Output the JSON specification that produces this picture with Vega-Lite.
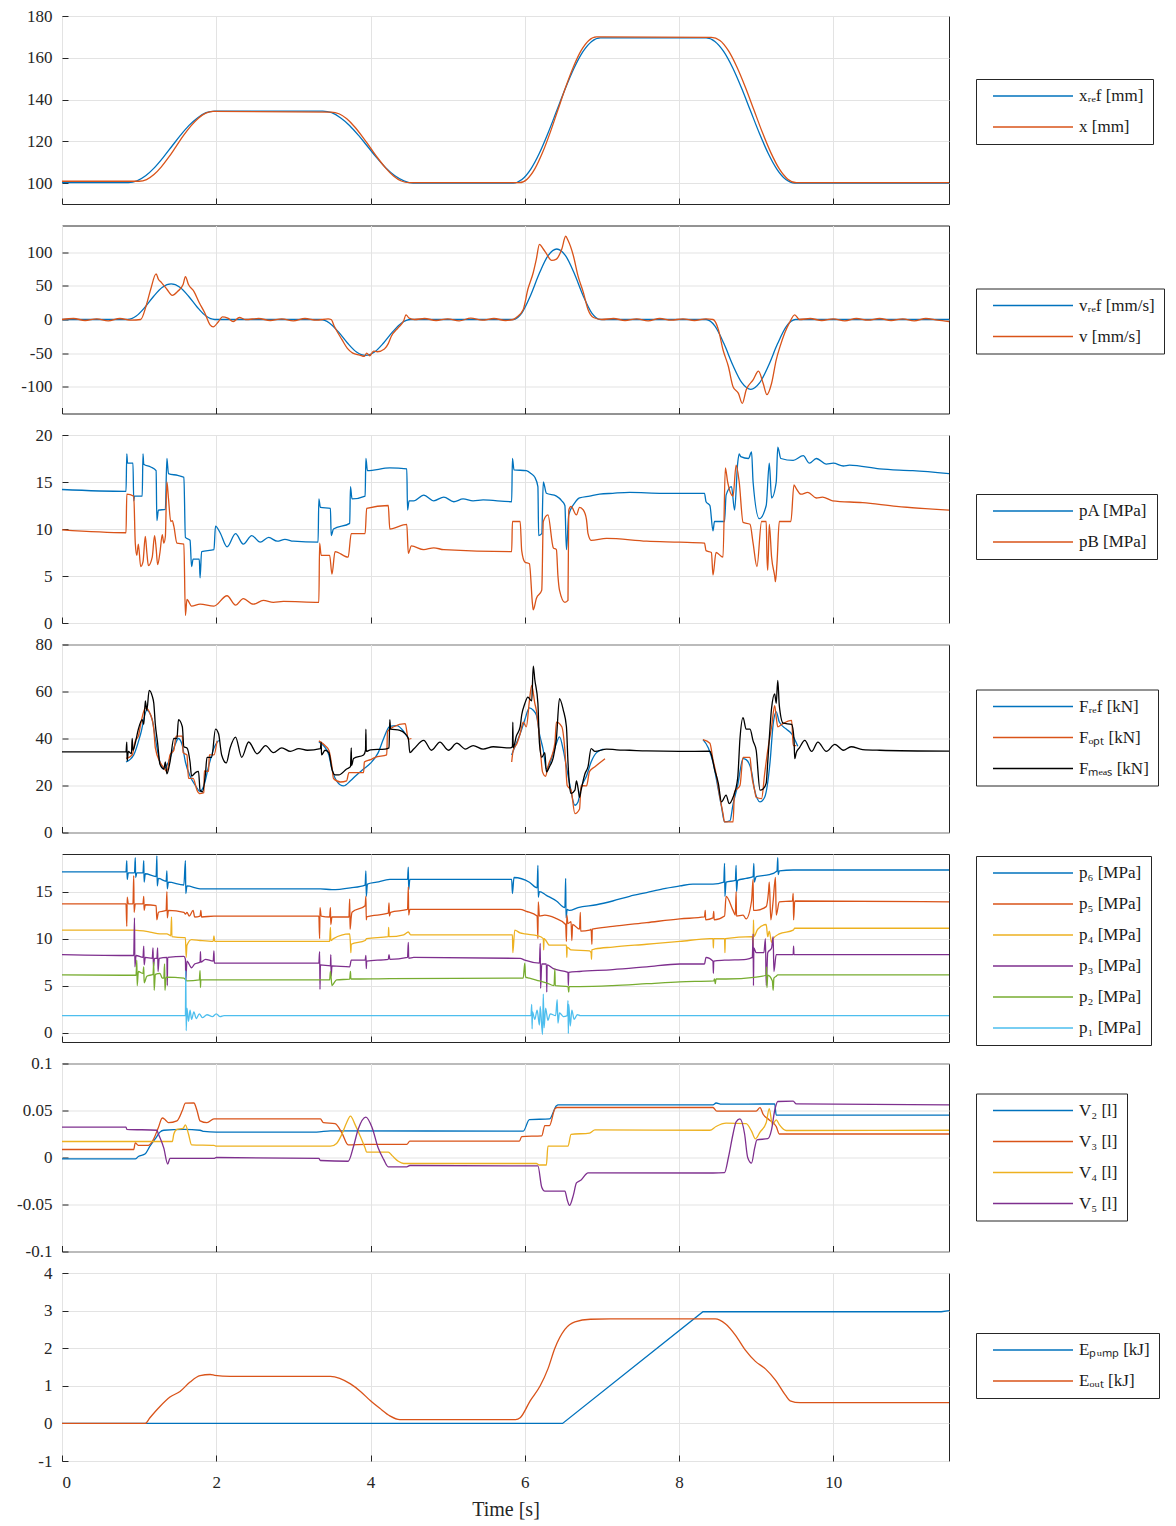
{
"$schema": "https://vega.github.io/schema/vega-lite/v6.json",
"padding": {"left": 16, "top": 6, "right": 5, "bottom": 5},
"spacing": 21.5,
"bounds": "flush",
"resolve": {"scale": {"color": "independent"}, "legend": {"color": "independent"}},
"config": {
"font": "Liberation Serif",
"view": {"stroke": "#262626", "strokeWidth": 1},
"axis": {"labelFont": "Liberation Serif", "labelFontSize": 17, "labelColor": "#262626", "titleFont": "Liberation Serif", "titleFontSize": 20, "titleFontWeight": "normal", "titleColor": "#262626", "gridColor": "#e3e3e3", "gridWidth": 1, "domain": false, "tickColor": "#262626", "tickSize": -6, "tickWidth": 1, "labelPadding": 16},
"legend": {"labelFont": "Liberation Serif", "labelFontSize": 17, "labelColor": "#1a1a1a", "symbolType": "stroke", "symbolSize": 6400, "symbolStrokeWidth": 1.2, "strokeColor": "#262626", "fillColor": "white", "padding": 9, "rowPadding": 14, "clipHeight": 16, "symbolOffset": 7, "labelOffset": 5},
"line": {"strokeWidth": 1.3, "interpolate": "monotone"}
},
"datasets": {
"d1": [
{"s":"r","t":0,"y":100.3},{"s":"r","t":0.86,"y":100.3},{"s":"r","t":0.972,"y":101.1},{"s":"r","t":1.084,"y":103.5},{"s":"r","t":1.196,"y":107.3},{"s":"r","t":1.308,"y":112.1},{"s":"r","t":1.42,"y":117.4},{"s":"r","t":1.532,"y":122.7},{"s":"r","t":1.644,"y":127.5},{"s":"r","t":1.756,"y":131.2},{"s":"r","t":1.868,"y":133.7},{"s":"r","t":1.98,"y":134.5},{"s":"r","t":3.38,"y":134.5},{"s":"r","t":3.497,"y":133.7},{"s":"r","t":3.614,"y":131.2},{"s":"r","t":3.731,"y":127.5},{"s":"r","t":3.848,"y":122.7},{"s":"r","t":3.965,"y":117.4},{"s":"r","t":4.082,"y":112.1},{"s":"r","t":4.199,"y":107.3},{"s":"r","t":4.316,"y":103.5},{"s":"r","t":4.433,"y":101.1},{"s":"r","t":4.55,"y":100.0},{"s":"r","t":5.85,"y":100.0},{"s":"r","t":5.963,"y":101.7},{"s":"r","t":6.076,"y":106.6},{"s":"r","t":6.189,"y":114.3},{"s":"r","t":6.302,"y":124.0},{"s":"r","t":6.415,"y":134.75},{"s":"r","t":6.528,"y":145.5},{"s":"r","t":6.641,"y":155.2},{"s":"r","t":6.754,"y":162.9},{"s":"r","t":6.867,"y":167.8},{"s":"r","t":6.98,"y":169.5},{"s":"r","t":8.35,"y":169.5},{"s":"r","t":8.465,"y":167.8},{"s":"r","t":8.58,"y":162.9},{"s":"r","t":8.695,"y":155.2},{"s":"r","t":8.81,"y":145.5},{"s":"r","t":8.925,"y":134.75},{"s":"r","t":9.04,"y":124.0},{"s":"r","t":9.155,"y":114.3},{"s":"r","t":9.27,"y":106.6},{"s":"r","t":9.385,"y":101.7},{"s":"r","t":9.5,"y":100.0},{"s":"r","t":11.5,"y":100.0},
{"s":"m","t":0,"y":100.9},{"s":"m","t":1.0,"y":100.9},{"s":"m","t":1.096,"y":101.7},{"s":"m","t":1.192,"y":104.1},{"s":"m","t":1.288,"y":107.8},{"s":"m","t":1.384,"y":112.4},{"s":"m","t":1.48,"y":117.6},{"s":"m","t":1.576,"y":122.8},{"s":"m","t":1.672,"y":127.4},{"s":"m","t":1.768,"y":131.1},{"s":"m","t":1.864,"y":133.5},{"s":"m","t":1.96,"y":134.3},{"s":"m","t":3.49,"y":134.0},{"s":"m","t":3.591,"y":133.2},{"s":"m","t":3.692,"y":130.8},{"s":"m","t":3.793,"y":127.0},{"s":"m","t":3.894,"y":122.3},{"s":"m","t":3.995,"y":117.1},{"s":"m","t":4.096,"y":111.9},{"s":"m","t":4.197,"y":107.2},{"s":"m","t":4.298,"y":103.4},{"s":"m","t":4.399,"y":101.0},{"s":"m","t":4.5,"y":100.2},{"s":"m","t":5.93,"y":100.2},{"s":"m","t":6.03,"y":101.9},{"s":"m","t":6.13,"y":106.8},{"s":"m","t":6.23,"y":114.6},{"s":"m","t":6.33,"y":124.3},{"s":"m","t":6.43,"y":135.1},{"s":"m","t":6.53,"y":145.9},{"s":"m","t":6.63,"y":155.6},{"s":"m","t":6.73,"y":163.4},{"s":"m","t":6.83,"y":168.3},{"s":"m","t":6.93,"y":170.0},{"s":"m","t":8.42,"y":169.8},{"s":"m","t":8.53,"y":168.3},{"s":"m","t":8.64,"y":163.4},{"s":"m","t":8.75,"y":155.6},{"s":"m","t":8.86,"y":145.9},{"s":"m","t":8.97,"y":135.1},{"s":"m","t":9.08,"y":124.3},{"s":"m","t":9.19,"y":114.6},{"s":"m","t":9.3,"y":106.8},{"s":"m","t":9.41,"y":101.9},{"s":"m","t":9.52,"y":100.2},{"s":"m","t":11.5,"y":100.2}
],
"d2": [
{"s":"r","t":0,"y":0},{"s":"r","t":0.85,"y":0},{"s":"r","t":0.963,"y":5.1},{"s":"r","t":1.076,"y":18.3},{"s":"r","t":1.189,"y":34.7},{"s":"r","t":1.302,"y":48.0},{"s":"r","t":1.415,"y":53},{"s":"r","t":1.528,"y":48.0},{"s":"r","t":1.641,"y":34.7},{"s":"r","t":1.754,"y":18.3},{"s":"r","t":1.867,"y":5.1},{"s":"r","t":1.98,"y":0},{"s":"r","t":3.35,"y":0},{"s":"r","t":3.467,"y":-5.1},{"s":"r","t":3.584,"y":-18.5},{"s":"r","t":3.701,"y":-35.0},{"s":"r","t":3.818,"y":-48.4},{"s":"r","t":3.935,"y":-53.5},{"s":"r","t":4.052,"y":-48.4},{"s":"r","t":4.169,"y":-35.0},{"s":"r","t":4.286,"y":-18.5},{"s":"r","t":4.403,"y":-5.1},{"s":"r","t":4.52,"y":0},{"s":"r","t":5.85,"y":0},{"s":"r","t":5.963,"y":10.0},{"s":"r","t":6.076,"y":36.2},{"s":"r","t":6.189,"y":68.8},{"s":"r","t":6.302,"y":95.0},{"s":"r","t":6.415,"y":105},{"s":"r","t":6.528,"y":95.0},{"s":"r","t":6.641,"y":68.8},{"s":"r","t":6.754,"y":36.2},{"s":"r","t":6.867,"y":10.0},{"s":"r","t":6.98,"y":0},{"s":"r","t":8.35,"y":0},{"s":"r","t":8.466,"y":-9.9},{"s":"r","t":8.582,"y":-35.9},{"s":"r","t":8.698,"y":-68.1},{"s":"r","t":8.814,"y":-94.1},{"s":"r","t":8.93,"y":-104},{"s":"r","t":9.046,"y":-94.1},{"s":"r","t":9.162,"y":-68.1},{"s":"r","t":9.278,"y":-35.9},{"s":"r","t":9.394,"y":-9.9},{"s":"r","t":9.51,"y":0},{"s":"r","t":11.5,"y":0},
{"s":"m","t":0,"y":0},{"s":"m","t":0.15,"y":1.5},{"s":"m","t":0.3,"y":-1.5},{"s":"m","t":0.45,"y":1},{"s":"m","t":0.6,"y":-2},{"s":"m","t":0.75,"y":1.5},{"s":"m","t":0.9,"y":-1},{"s":"m","t":1.02,"y":0},{"s":"m","t":1.09,"y":20},{"s":"m","t":1.15,"y":45},{"s":"m","t":1.22,"y":68},{"s":"m","t":1.25,"y":60},{"s":"m","t":1.29,"y":55},{"s":"m","t":1.36,"y":45},{"s":"m","t":1.43,"y":36},{"s":"m","t":1.5,"y":42},{"s":"m","t":1.57,"y":52},{"s":"m","t":1.6,"y":64},{"s":"m","t":1.64,"y":52},{"s":"m","t":1.71,"y":42},{"s":"m","t":1.78,"y":25},{"s":"m","t":1.85,"y":10},{"s":"m","t":1.92,"y":-8},{"s":"m","t":1.96,"y":-11},{"s":"m","t":2.03,"y":-3},{"s":"m","t":2.08,"y":4},{"s":"m","t":2.15,"y":2},{"s":"m","t":2.22,"y":-3},{"s":"m","t":2.3,"y":3},{"s":"m","t":2.38,"y":0},{"s":"m","t":2.55,"y":1.5},{"s":"m","t":2.7,"y":-1.5},{"s":"m","t":2.85,"y":1},{"s":"m","t":3.0,"y":-2},{"s":"m","t":3.15,"y":1.5},{"s":"m","t":3.3,"y":-1},{"s":"m","t":3.45,"y":1},{"s":"m","t":3.49,"y":0},{"s":"m","t":3.53,"y":-10},{"s":"m","t":3.63,"y":-30},{"s":"m","t":3.7,"y":-43},{"s":"m","t":3.77,"y":-50},{"s":"m","t":3.86,"y":-53},{"s":"m","t":3.92,"y":-55},{"s":"m","t":3.95,"y":-50},{"s":"m","t":3.99,"y":-54},{"s":"m","t":4.04,"y":-47},{"s":"m","t":4.09,"y":-48},{"s":"m","t":4.18,"y":-44},{"s":"m","t":4.23,"y":-36},{"s":"m","t":4.27,"y":-25},{"s":"m","t":4.36,"y":-12},{"s":"m","t":4.43,"y":-2},{"s":"m","t":4.46,"y":7},{"s":"m","t":4.5,"y":2},{"s":"m","t":4.57,"y":0},{"s":"m","t":4.7,"y":1.5},{"s":"m","t":4.85,"y":-1.5},{"s":"m","t":5.0,"y":1},{"s":"m","t":5.15,"y":-2},{"s":"m","t":5.3,"y":2},{"s":"m","t":5.45,"y":-1},{"s":"m","t":5.6,"y":1.5},{"s":"m","t":5.75,"y":-1.5},{"s":"m","t":5.85,"y":0},{"s":"m","t":5.89,"y":3},{"s":"m","t":5.98,"y":15},{"s":"m","t":6.04,"y":45},{"s":"m","t":6.11,"y":70},{"s":"m","t":6.15,"y":90},{"s":"m","t":6.19,"y":112},{"s":"m","t":6.24,"y":105},{"s":"m","t":6.28,"y":98},{"s":"m","t":6.35,"y":88},{"s":"m","t":6.41,"y":90},{"s":"m","t":6.48,"y":105},{"s":"m","t":6.53,"y":124},{"s":"m","t":6.56,"y":118},{"s":"m","t":6.63,"y":95},{"s":"m","t":6.69,"y":65},{"s":"m","t":6.76,"y":40},{"s":"m","t":6.82,"y":15},{"s":"m","t":6.89,"y":3},{"s":"m","t":7.0,"y":0},{"s":"m","t":7.15,"y":1.5},{"s":"m","t":7.3,"y":-1.5},{"s":"m","t":7.45,"y":1},{"s":"m","t":7.6,"y":-2},{"s":"m","t":7.75,"y":1.5},{"s":"m","t":7.9,"y":-1},{"s":"m","t":8.05,"y":1},{"s":"m","t":8.2,"y":-1.5},{"s":"m","t":8.35,"y":1},{"s":"m","t":8.44,"y":0},{"s":"m","t":8.51,"y":-15},{"s":"m","t":8.57,"y":-45},{"s":"m","t":8.64,"y":-70},{"s":"m","t":8.7,"y":-100},{"s":"m","t":8.77,"y":-110},{"s":"m","t":8.82,"y":-125},{"s":"m","t":8.87,"y":-105},{"s":"m","t":8.96,"y":-90},{"s":"m","t":9.03,"y":-77},{"s":"m","t":9.09,"y":-95},{"s":"m","t":9.14,"y":-112},{"s":"m","t":9.2,"y":-95},{"s":"m","t":9.26,"y":-60},{"s":"m","t":9.31,"y":-40},{"s":"m","t":9.37,"y":-20},{"s":"m","t":9.43,"y":-5},{"s":"m","t":9.5,"y":7},{"s":"m","t":9.56,"y":0},{"s":"m","t":9.7,"y":1.5},{"s":"m","t":9.85,"y":-1.5},{"s":"m","t":10.0,"y":1},{"s":"m","t":10.15,"y":-2},{"s":"m","t":10.3,"y":1.5},{"s":"m","t":10.45,"y":-1},{"s":"m","t":10.6,"y":1.5},{"s":"m","t":10.75,"y":-1.5},{"s":"m","t":10.9,"y":1},{"s":"m","t":11.05,"y":-2},{"s":"m","t":11.2,"y":1.5},{"s":"m","t":11.35,"y":-1},{"s":"m","t":11.5,"y":-3}
],
"d3": [
{"s":"A","t":0,"y":14.2},{"s":"A","t":0.83,"y":14.0},{"s":"A","t":0.84,"y":18.0},{"s":"A","t":0.85,"y":17.0},{"s":"A","t":0.92,"y":17.0},{"s":"A","t":0.93,"y":13.0},{"s":"A","t":0.94,"y":13.5},{"s":"A","t":1.04,"y":13.5},{"s":"A","t":1.05,"y":18.0},{"s":"A","t":1.06,"y":16.9},{"s":"A","t":1.15,"y":16.6},{"s":"A","t":1.22,"y":16.2},{"s":"A","t":1.23,"y":10.9},{"s":"A","t":1.25,"y":12.0},{"s":"A","t":1.34,"y":12.1},{"s":"A","t":1.36,"y":17.5},{"s":"A","t":1.38,"y":15.9},{"s":"A","t":1.5,"y":15.7},{"s":"A","t":1.58,"y":15.5},{"s":"A","t":1.6,"y":9.1},{"s":"A","t":1.66,"y":8.8},{"s":"A","t":1.68,"y":6.0},{"s":"A","t":1.7,"y":6.8},{"s":"A","t":1.78,"y":6.8},{"s":"A","t":1.79,"y":4.8},{"s":"A","t":1.81,"y":7.6},{"s":"A","t":1.97,"y":7.8},{"s":"A","t":1.99,"y":10.3},{"s":"A","t":2.05,"y":9.6},{"s":"A","t":2.14,"y":8.1},{"s":"A","t":2.25,"y":9.5},{"s":"A","t":2.35,"y":8.4},{"s":"A","t":2.46,"y":9.3},{"s":"A","t":2.57,"y":8.6},{"s":"A","t":2.68,"y":9.1},{"s":"A","t":2.79,"y":8.7},{"s":"A","t":2.89,"y":8.9},{"s":"A","t":3.0,"y":8.7},{"s":"A","t":3.32,"y":8.6},{"s":"A","t":3.33,"y":13.2},{"s":"A","t":3.35,"y":12.3},{"s":"A","t":3.48,"y":12.2},{"s":"A","t":3.49,"y":9.3},{"s":"A","t":3.52,"y":10.0},{"s":"A","t":3.73,"y":10.6},{"s":"A","t":3.74,"y":14.5},{"s":"A","t":3.76,"y":13.2},{"s":"A","t":3.93,"y":13.5},{"s":"A","t":3.94,"y":17.5},{"s":"A","t":3.96,"y":16.2},{"s":"A","t":4.25,"y":16.5},{"s":"A","t":4.47,"y":16.4},{"s":"A","t":4.48,"y":12.0},{"s":"A","t":4.5,"y":13.0},{"s":"A","t":4.56,"y":13.0},{"s":"A","t":4.69,"y":13.6},{"s":"A","t":4.82,"y":13.0},{"s":"A","t":4.95,"y":13.4},{"s":"A","t":5.08,"y":12.9},{"s":"A","t":5.2,"y":13.2},{"s":"A","t":5.33,"y":13.0},{"s":"A","t":5.46,"y":13.1},{"s":"A","t":5.83,"y":12.9},{"s":"A","t":5.84,"y":17.5},{"s":"A","t":5.86,"y":16.3},{"s":"A","t":6.02,"y":16.2},{"s":"A","t":6.08,"y":15.9},{"s":"A","t":6.13,"y":15.5},{"s":"A","t":6.17,"y":14.5},{"s":"A","t":6.18,"y":9.3},{"s":"A","t":6.22,"y":9.5},{"s":"A","t":6.24,"y":15.0},{"s":"A","t":6.28,"y":13.8},{"s":"A","t":6.41,"y":13.5},{"s":"A","t":6.48,"y":13.0},{"s":"A","t":6.52,"y":12.5},{"s":"A","t":6.54,"y":7.8},{"s":"A","t":6.57,"y":11.5},{"s":"A","t":6.65,"y":12.8},{"s":"A","t":6.71,"y":13.3},{"s":"A","t":6.84,"y":13.5},{"s":"A","t":6.97,"y":13.7},{"s":"A","t":7.14,"y":13.8},{"s":"A","t":7.36,"y":13.9},{"s":"A","t":7.79,"y":13.8},{"s":"A","t":8.33,"y":13.8},{"s":"A","t":8.35,"y":12.9},{"s":"A","t":8.4,"y":12.5},{"s":"A","t":8.44,"y":9.8},{"s":"A","t":8.46,"y":10.8},{"s":"A","t":8.59,"y":10.8},{"s":"A","t":8.61,"y":13.6},{"s":"A","t":8.68,"y":14.5},{"s":"A","t":8.72,"y":12.0},{"s":"A","t":8.76,"y":17.0},{"s":"A","t":8.78,"y":18.0},{"s":"A","t":8.8,"y":17.7},{"s":"A","t":8.9,"y":17.5},{"s":"A","t":8.94,"y":18.2},{"s":"A","t":8.96,"y":15.0},{"s":"A","t":9.04,"y":11.1},{"s":"A","t":9.13,"y":12.5},{"s":"A","t":9.17,"y":17.0},{"s":"A","t":9.2,"y":13.3},{"s":"A","t":9.26,"y":15.0},{"s":"A","t":9.28,"y":18.7},{"s":"A","t":9.32,"y":17.5},{"s":"A","t":9.48,"y":17.3},{"s":"A","t":9.61,"y":17.8},{"s":"A","t":9.69,"y":17.0},{"s":"A","t":9.78,"y":17.5},{"s":"A","t":9.91,"y":16.9},{"s":"A","t":10.0,"y":17.0},{"s":"A","t":10.13,"y":16.7},{"s":"A","t":10.21,"y":16.8},{"s":"A","t":10.6,"y":16.4},{"s":"A","t":11.03,"y":16.2},{"s":"A","t":11.5,"y":15.9},
{"s":"B","t":0,"y":9.9},{"s":"B","t":0.83,"y":9.6},{"s":"B","t":0.84,"y":13.7},{"s":"B","t":0.93,"y":13.5},{"s":"B","t":0.95,"y":8.5},{"s":"B","t":0.97,"y":7.2},{"s":"B","t":0.99,"y":8.4},{"s":"B","t":1.02,"y":6.0},{"s":"B","t":1.05,"y":6.5},{"s":"B","t":1.08,"y":9.2},{"s":"B","t":1.1,"y":7.5},{"s":"B","t":1.12,"y":6.1},{"s":"B","t":1.17,"y":7.0},{"s":"B","t":1.2,"y":9.3},{"s":"B","t":1.22,"y":8.0},{"s":"B","t":1.24,"y":6.2},{"s":"B","t":1.27,"y":7.5},{"s":"B","t":1.3,"y":9.4},{"s":"B","t":1.32,"y":8.5},{"s":"B","t":1.34,"y":9.2},{"s":"B","t":1.36,"y":15.0},{"s":"B","t":1.38,"y":13.3},{"s":"B","t":1.41,"y":10.8},{"s":"B","t":1.43,"y":10.9},{"s":"B","t":1.45,"y":10.3},{"s":"B","t":1.49,"y":8.5},{"s":"B","t":1.58,"y":8.4},{"s":"B","t":1.6,"y":0.8},{"s":"B","t":1.62,"y":2.5},{"s":"B","t":1.68,"y":1.8},{"s":"B","t":1.79,"y":2.0},{"s":"B","t":1.97,"y":1.8},{"s":"B","t":2.14,"y":2.9},{"s":"B","t":2.25,"y":1.9},{"s":"B","t":2.35,"y":2.6},{"s":"B","t":2.48,"y":2.0},{"s":"B","t":2.61,"y":2.4},{"s":"B","t":2.74,"y":2.2},{"s":"B","t":2.87,"y":2.3},{"s":"B","t":3.33,"y":2.2},{"s":"B","t":3.34,"y":8.5},{"s":"B","t":3.36,"y":7.2},{"s":"B","t":3.47,"y":7.2},{"s":"B","t":3.5,"y":5.2},{"s":"B","t":3.54,"y":7.6},{"s":"B","t":3.71,"y":7.0},{"s":"B","t":3.75,"y":9.5},{"s":"B","t":3.93,"y":9.5},{"s":"B","t":3.95,"y":12.2},{"s":"B","t":4.23,"y":12.5},{"s":"B","t":4.25,"y":10.0},{"s":"B","t":4.47,"y":10.5},{"s":"B","t":4.49,"y":7.4},{"s":"B","t":4.53,"y":8.2},{"s":"B","t":4.69,"y":7.8},{"s":"B","t":4.82,"y":8.0},{"s":"B","t":4.95,"y":7.8},{"s":"B","t":5.83,"y":7.6},{"s":"B","t":5.84,"y":10.8},{"s":"B","t":5.94,"y":10.8},{"s":"B","t":5.96,"y":7.7},{"s":"B","t":6.0,"y":6.5},{"s":"B","t":6.06,"y":6.3},{"s":"B","t":6.1,"y":2.0},{"s":"B","t":6.11,"y":1.4},{"s":"B","t":6.15,"y":2.6},{"s":"B","t":6.22,"y":3.5},{"s":"B","t":6.24,"y":10.8},{"s":"B","t":6.3,"y":11.5},{"s":"B","t":6.37,"y":8.0},{"s":"B","t":6.41,"y":7.8},{"s":"B","t":6.43,"y":5.0},{"s":"B","t":6.45,"y":3.5},{"s":"B","t":6.52,"y":2.2},{"s":"B","t":6.56,"y":2.4},{"s":"B","t":6.57,"y":12.0},{"s":"B","t":6.6,"y":12.4},{"s":"B","t":6.67,"y":11.5},{"s":"B","t":6.71,"y":12.3},{"s":"B","t":6.76,"y":12.0},{"s":"B","t":6.8,"y":11.0},{"s":"B","t":6.82,"y":9.5},{"s":"B","t":6.86,"y":8.8},{"s":"B","t":7.06,"y":9.0},{"s":"B","t":7.58,"y":8.7},{"s":"B","t":8.01,"y":8.6},{"s":"B","t":8.33,"y":8.5},{"s":"B","t":8.35,"y":7.7},{"s":"B","t":8.42,"y":7.5},{"s":"B","t":8.44,"y":5.1},{"s":"B","t":8.48,"y":7.5},{"s":"B","t":8.57,"y":7.0},{"s":"B","t":8.6,"y":16.5},{"s":"B","t":8.63,"y":15.0},{"s":"B","t":8.7,"y":13.5},{"s":"B","t":8.74,"y":16.8},{"s":"B","t":8.78,"y":15.0},{"s":"B","t":8.83,"y":10.7},{"s":"B","t":8.92,"y":10.5},{"s":"B","t":8.96,"y":8.5},{"s":"B","t":9.01,"y":6.0},{"s":"B","t":9.07,"y":10.8},{"s":"B","t":9.13,"y":10.8},{"s":"B","t":9.14,"y":7.0},{"s":"B","t":9.15,"y":5.6},{"s":"B","t":9.17,"y":10.5},{"s":"B","t":9.2,"y":7.0},{"s":"B","t":9.24,"y":5.0},{"s":"B","t":9.25,"y":4.4},{"s":"B","t":9.27,"y":6.4},{"s":"B","t":9.3,"y":10.8},{"s":"B","t":9.45,"y":10.8},{"s":"B","t":9.49,"y":14.7},{"s":"B","t":9.52,"y":14.3},{"s":"B","t":9.58,"y":13.7},{"s":"B","t":9.67,"y":13.9},{"s":"B","t":9.78,"y":13.3},{"s":"B","t":9.86,"y":13.4},{"s":"B","t":9.99,"y":13.0},{"s":"B","t":10.38,"y":12.8},{"s":"B","t":10.82,"y":12.4},{"s":"B","t":11.5,"y":12.0}
],
"d4": [
{"s":"r","g":"1","t":0.83,"y":30.0},{"s":"r","g":"1","t":0.93,"y":33.0},{"s":"r","g":"1","t":1.02,"y":42.0},{"s":"r","g":"1","t":1.1,"y":52.0},{"s":"r","g":"1","t":1.17,"y":48.0},{"s":"r","g":"1","t":1.21,"y":40.0},{"s":"r","g":"1","t":1.27,"y":30.0},{"s":"r","g":"1","t":1.32,"y":27.0},{"s":"r","g":"1","t":1.38,"y":30.0},{"s":"r","g":"1","t":1.45,"y":36.0},{"s":"r","g":"1","t":1.51,"y":40.0},{"s":"r","g":"1","t":1.56,"y":37.0},{"s":"r","g":"1","t":1.6,"y":30.0},{"s":"r","g":"1","t":1.66,"y":24.0},{"s":"r","g":"1","t":1.73,"y":20.0},{"s":"r","g":"1","t":1.79,"y":17.5},{"s":"r","g":"1","t":1.84,"y":20.0},{"s":"r","g":"1","t":1.9,"y":28.0},{"s":"r","g":"1","t":1.97,"y":36.0},{"s":"r","g":"1","t":2.03,"y":39.2},
{"s":"r","g":"2","t":3.33,"y":38.5},{"s":"r","g":"2","t":3.39,"y":37.0},{"s":"r","g":"2","t":3.46,"y":33.0},{"s":"r","g":"2","t":3.5,"y":27.0},{"s":"r","g":"2","t":3.56,"y":22.0},{"s":"r","g":"2","t":3.65,"y":19.8},{"s":"r","g":"2","t":3.74,"y":22.0},{"s":"r","g":"2","t":3.82,"y":24.5},{"s":"r","g":"2","t":3.91,"y":27.0},{"s":"r","g":"2","t":4.0,"y":29.5},{"s":"r","g":"2","t":4.1,"y":34.0},{"s":"r","g":"2","t":4.17,"y":40.0},{"s":"r","g":"2","t":4.25,"y":45.2},{"s":"r","g":"2","t":4.34,"y":45.5},{"s":"r","g":"2","t":4.43,"y":43.0},{"s":"r","g":"2","t":4.49,"y":40.0},
{"s":"r","g":"3","t":5.83,"y":33.0},{"s":"r","g":"3","t":5.89,"y":38.0},{"s":"r","g":"3","t":5.94,"y":42.0},{"s":"r","g":"3","t":6.0,"y":48.0},{"s":"r","g":"3","t":6.06,"y":53.0},{"s":"r","g":"3","t":6.11,"y":52.0},{"s":"r","g":"3","t":6.15,"y":50.0},{"s":"r","g":"3","t":6.19,"y":42.0},{"s":"r","g":"3","t":6.24,"y":35.0},{"s":"r","g":"3","t":6.28,"y":27.0},{"s":"r","g":"3","t":6.32,"y":29.0},{"s":"r","g":"3","t":6.37,"y":34.0},{"s":"r","g":"3","t":6.41,"y":38.0},{"s":"r","g":"3","t":6.45,"y":40.7},{"s":"r","g":"3","t":6.5,"y":35.0},{"s":"r","g":"3","t":6.54,"y":28.0},{"s":"r","g":"3","t":6.58,"y":21.0},{"s":"r","g":"3","t":6.65,"y":11.6},{"s":"r","g":"3","t":6.69,"y":13.0},{"s":"r","g":"3","t":6.73,"y":19.0},{"s":"r","g":"3","t":6.8,"y":24.0},{"s":"r","g":"3","t":6.86,"y":30.0},{"s":"r","g":"3","t":6.93,"y":34.0},{"s":"r","g":"3","t":7.02,"y":35.5},
{"s":"r","g":"4","t":8.31,"y":39.5},{"s":"r","g":"4","t":8.38,"y":36.0},{"s":"r","g":"4","t":8.44,"y":30.0},{"s":"r","g":"4","t":8.51,"y":18.0},{"s":"r","g":"4","t":8.55,"y":11.0},{"s":"r","g":"4","t":8.59,"y":4.5},{"s":"r","g":"4","t":8.66,"y":5.0},{"s":"r","g":"4","t":8.7,"y":12.0},{"s":"r","g":"4","t":8.76,"y":20.0},{"s":"r","g":"4","t":8.83,"y":31.4},{"s":"r","g":"4","t":8.87,"y":31.0},{"s":"r","g":"4","t":8.94,"y":26.0},{"s":"r","g":"4","t":8.98,"y":18.0},{"s":"r","g":"4","t":9.05,"y":13.0},{"s":"r","g":"4","t":9.11,"y":15.0},{"s":"r","g":"4","t":9.18,"y":30.0},{"s":"r","g":"4","t":9.22,"y":46.0},{"s":"r","g":"4","t":9.26,"y":51.3},{"s":"r","g":"4","t":9.3,"y":47.0},{"s":"r","g":"4","t":9.39,"y":44.0},{"s":"r","g":"4","t":9.46,"y":42.0},{"s":"r","g":"4","t":9.54,"y":36.7},
{"s":"o","g":"1","t":0.83,"y":31.5},{"s":"o","g":"1","t":0.91,"y":33.0},{"s":"o","g":"1","t":0.95,"y":39.0},{"s":"o","g":"1","t":0.99,"y":41.0},{"s":"o","g":"1","t":1.02,"y":46.0},{"s":"o","g":"1","t":1.08,"y":53.0},{"s":"o","g":"1","t":1.15,"y":50.0},{"s":"o","g":"1","t":1.19,"y":44.0},{"s":"o","g":"1","t":1.21,"y":36.0},{"s":"o","g":"1","t":1.27,"y":30.0},{"s":"o","g":"1","t":1.32,"y":27.5},{"s":"o","g":"1","t":1.36,"y":26.0},{"s":"o","g":"1","t":1.4,"y":33.0},{"s":"o","g":"1","t":1.45,"y":35.0},{"s":"o","g":"1","t":1.48,"y":41.0},{"s":"o","g":"1","t":1.56,"y":41.0},{"s":"o","g":"1","t":1.57,"y":34.0},{"s":"o","g":"1","t":1.62,"y":33.0},{"s":"o","g":"1","t":1.64,"y":23.0},{"s":"o","g":"1","t":1.7,"y":23.0},{"s":"o","g":"1","t":1.75,"y":18.0},{"s":"o","g":"1","t":1.78,"y":16.6},{"s":"o","g":"1","t":1.84,"y":17.0},{"s":"o","g":"1","t":1.845,"y":26.2},{"s":"o","g":"1","t":1.9,"y":26.0},{"s":"o","g":"1","t":1.91,"y":33.0},{"s":"o","g":"1","t":1.97,"y":33.0},{"s":"o","g":"1","t":2.01,"y":39.0},
{"s":"o","g":"2","t":3.33,"y":39.0},{"s":"o","g":"2","t":3.41,"y":37.0},{"s":"o","g":"2","t":3.46,"y":35.0},{"s":"o","g":"2","t":3.5,"y":28.0},{"s":"o","g":"2","t":3.52,"y":23.0},{"s":"o","g":"2","t":3.61,"y":21.5},{"s":"o","g":"2","t":3.69,"y":22.0},{"s":"o","g":"2","t":3.72,"y":25.5},{"s":"o","g":"2","t":3.91,"y":25.5},{"s":"o","g":"2","t":3.92,"y":30.0},{"s":"o","g":"2","t":4.0,"y":31.0},{"s":"o","g":"2","t":4.06,"y":32.0},{"s":"o","g":"2","t":4.21,"y":33.0},{"s":"o","g":"2","t":4.22,"y":43.0},{"s":"o","g":"2","t":4.3,"y":45.0},{"s":"o","g":"2","t":4.45,"y":46.3},{"s":"o","g":"2","t":4.49,"y":39.7},{"s":"o","g":"2","t":4.53,"y":40.0},
{"s":"o","g":"3","t":5.83,"y":30.0},{"s":"o","g":"3","t":5.85,"y":35.0},{"s":"o","g":"3","t":5.9,"y":38.0},{"s":"o","g":"3","t":5.94,"y":42.0},{"s":"o","g":"3","t":5.98,"y":47.0},{"s":"o","g":"3","t":6.02,"y":45.0},{"s":"o","g":"3","t":6.06,"y":56.0},{"s":"o","g":"3","t":6.09,"y":62.6},{"s":"o","g":"3","t":6.13,"y":55.0},{"s":"o","g":"3","t":6.15,"y":52.0},{"s":"o","g":"3","t":6.19,"y":40.6},{"s":"o","g":"3","t":6.23,"y":25.8},{"s":"o","g":"3","t":6.27,"y":23.9},{"s":"o","g":"3","t":6.3,"y":28.0},{"s":"o","g":"3","t":6.39,"y":38.0},{"s":"o","g":"3","t":6.41,"y":47.0},{"s":"o","g":"3","t":6.48,"y":45.0},{"s":"o","g":"3","t":6.52,"y":35.0},{"s":"o","g":"3","t":6.55,"y":20.0},{"s":"o","g":"3","t":6.6,"y":18.0},{"s":"o","g":"3","t":6.65,"y":8.0},{"s":"o","g":"3","t":6.71,"y":10.0},{"s":"o","g":"3","t":6.73,"y":20.0},{"s":"o","g":"3","t":6.8,"y":19.8},{"s":"o","g":"3","t":6.84,"y":26.0},{"s":"o","g":"3","t":6.91,"y":28.0},{"s":"o","g":"3","t":7.04,"y":31.4},
{"s":"o","g":"4","t":8.31,"y":39.5},{"s":"o","g":"4","t":8.4,"y":38.0},{"s":"o","g":"4","t":8.44,"y":31.0},{"s":"o","g":"4","t":8.48,"y":25.0},{"s":"o","g":"4","t":8.53,"y":15.0},{"s":"o","g":"4","t":8.57,"y":8.0},{"s":"o","g":"4","t":8.59,"y":4.5},{"s":"o","g":"4","t":8.7,"y":4.5},{"s":"o","g":"4","t":8.72,"y":17.3},{"s":"o","g":"4","t":8.79,"y":20.0},{"s":"o","g":"4","t":8.83,"y":32.0},{"s":"o","g":"4","t":8.92,"y":32.0},{"s":"o","g":"4","t":8.94,"y":25.0},{"s":"o","g":"4","t":8.98,"y":18.0},{"s":"o","g":"4","t":9.0,"y":15.0},{"s":"o","g":"4","t":9.07,"y":14.4},{"s":"o","g":"4","t":9.11,"y":25.0},{"s":"o","g":"4","t":9.15,"y":35.0},{"s":"o","g":"4","t":9.2,"y":45.0},{"s":"o","g":"4","t":9.24,"y":54.0},{"s":"o","g":"4","t":9.26,"y":49.0},{"s":"o","g":"4","t":9.28,"y":45.0},{"s":"o","g":"4","t":9.33,"y":46.0},{"s":"o","g":"4","t":9.46,"y":47.7},{"s":"o","g":"4","t":9.48,"y":37.0},{"s":"o","g":"4","t":9.52,"y":37.0},
{"s":"m","g":"m","t":0,"y":34.3},{"s":"m","g":"m","t":0.83,"y":34.3},{"s":"m","g":"m","t":0.84,"y":38.5},{"s":"m","g":"m","t":0.845,"y":30.5},{"s":"m","g":"m","t":0.86,"y":34.5},{"s":"m","g":"m","t":0.9,"y":33.5},{"s":"m","g":"m","t":0.91,"y":40.0},{"s":"m","g":"m","t":0.92,"y":35.0},{"s":"m","g":"m","t":0.95,"y":38.0},{"s":"m","g":"m","t":0.99,"y":44.0},{"s":"m","g":"m","t":1.04,"y":48.0},{"s":"m","g":"m","t":1.06,"y":46.0},{"s":"m","g":"m","t":1.08,"y":56.0},{"s":"m","g":"m","t":1.1,"y":52.0},{"s":"m","g":"m","t":1.13,"y":60.5},{"s":"m","g":"m","t":1.17,"y":58.0},{"s":"m","g":"m","t":1.19,"y":55.0},{"s":"m","g":"m","t":1.21,"y":46.0},{"s":"m","g":"m","t":1.24,"y":38.0},{"s":"m","g":"m","t":1.27,"y":29.0},{"s":"m","g":"m","t":1.32,"y":27.0},{"s":"m","g":"m","t":1.34,"y":30.0},{"s":"m","g":"m","t":1.36,"y":25.0},{"s":"m","g":"m","t":1.4,"y":30.0},{"s":"m","g":"m","t":1.45,"y":40.0},{"s":"m","g":"m","t":1.49,"y":40.0},{"s":"m","g":"m","t":1.51,"y":48.0},{"s":"m","g":"m","t":1.56,"y":45.0},{"s":"m","g":"m","t":1.58,"y":36.5},{"s":"m","g":"m","t":1.62,"y":36.0},{"s":"m","g":"m","t":1.66,"y":30.0},{"s":"m","g":"m","t":1.68,"y":24.0},{"s":"m","g":"m","t":1.73,"y":25.5},{"s":"m","g":"m","t":1.77,"y":26.0},{"s":"m","g":"m","t":1.79,"y":18.0},{"s":"m","g":"m","t":1.82,"y":17.3},{"s":"m","g":"m","t":1.86,"y":25.0},{"s":"m","g":"m","t":1.88,"y":32.0},{"s":"m","g":"m","t":1.94,"y":32.0},{"s":"m","g":"m","t":1.99,"y":44.0},{"s":"m","g":"m","t":2.03,"y":42.0},{"s":"m","g":"m","t":2.07,"y":33.0},{"s":"m","g":"m","t":2.13,"y":29.6},{"s":"m","g":"m","t":2.18,"y":36.0},{"s":"m","g":"m","t":2.25,"y":40.6},{"s":"m","g":"m","t":2.33,"y":32.0},{"s":"m","g":"m","t":2.42,"y":38.5},{"s":"m","g":"m","t":2.53,"y":33.5},{"s":"m","g":"m","t":2.64,"y":37.0},{"s":"m","g":"m","t":2.74,"y":34.0},{"s":"m","g":"m","t":2.85,"y":36.0},{"s":"m","g":"m","t":2.96,"y":34.5},{"s":"m","g":"m","t":3.07,"y":35.7},{"s":"m","g":"m","t":3.18,"y":35.0},{"s":"m","g":"m","t":3.35,"y":35.7},{"s":"m","g":"m","t":3.36,"y":38.5},{"s":"m","g":"m","t":3.365,"y":33.0},{"s":"m","g":"m","t":3.41,"y":35.0},{"s":"m","g":"m","t":3.46,"y":34.0},{"s":"m","g":"m","t":3.5,"y":27.0},{"s":"m","g":"m","t":3.54,"y":24.5},{"s":"m","g":"m","t":3.59,"y":24.5},{"s":"m","g":"m","t":3.69,"y":27.0},{"s":"m","g":"m","t":3.74,"y":28.0},{"s":"m","g":"m","t":3.75,"y":36.0},{"s":"m","g":"m","t":3.755,"y":28.5},{"s":"m","g":"m","t":3.78,"y":31.5},{"s":"m","g":"m","t":3.91,"y":33.0},{"s":"m","g":"m","t":3.935,"y":35.0},{"s":"m","g":"m","t":3.94,"y":44.0},{"s":"m","g":"m","t":3.945,"y":34.5},{"s":"m","g":"m","t":4.0,"y":35.2},{"s":"m","g":"m","t":4.19,"y":35.5},{"s":"m","g":"m","t":4.24,"y":36.0},{"s":"m","g":"m","t":4.25,"y":48.0},{"s":"m","g":"m","t":4.26,"y":44.0},{"s":"m","g":"m","t":4.38,"y":43.5},{"s":"m","g":"m","t":4.45,"y":42.0},{"s":"m","g":"m","t":4.49,"y":40.0},{"s":"m","g":"m","t":4.51,"y":34.0},{"s":"m","g":"m","t":4.56,"y":35.5},{"s":"m","g":"m","t":4.69,"y":39.2},{"s":"m","g":"m","t":4.79,"y":35.0},{"s":"m","g":"m","t":4.9,"y":38.5},{"s":"m","g":"m","t":5.01,"y":35.0},{"s":"m","g":"m","t":5.12,"y":38.0},{"s":"m","g":"m","t":5.23,"y":35.5},{"s":"m","g":"m","t":5.33,"y":37.0},{"s":"m","g":"m","t":5.46,"y":35.5},{"s":"m","g":"m","t":5.59,"y":36.5},{"s":"m","g":"m","t":5.81,"y":36.0},{"s":"m","g":"m","t":5.84,"y":36.5},{"s":"m","g":"m","t":5.845,"y":47.0},{"s":"m","g":"m","t":5.85,"y":36.0},{"s":"m","g":"m","t":5.89,"y":41.0},{"s":"m","g":"m","t":5.94,"y":45.0},{"s":"m","g":"m","t":5.96,"y":50.0},{"s":"m","g":"m","t":6.0,"y":54.8},{"s":"m","g":"m","t":6.04,"y":57.6},{"s":"m","g":"m","t":6.09,"y":56.0},{"s":"m","g":"m","t":6.11,"y":70.8},{"s":"m","g":"m","t":6.13,"y":65.0},{"s":"m","g":"m","t":6.17,"y":55.0},{"s":"m","g":"m","t":6.19,"y":38.0},{"s":"m","g":"m","t":6.22,"y":32.0},{"s":"m","g":"m","t":6.26,"y":34.0},{"s":"m","g":"m","t":6.28,"y":25.8},{"s":"m","g":"m","t":6.32,"y":28.0},{"s":"m","g":"m","t":6.37,"y":32.0},{"s":"m","g":"m","t":6.41,"y":40.0},{"s":"m","g":"m","t":6.45,"y":57.0},{"s":"m","g":"m","t":6.5,"y":52.0},{"s":"m","g":"m","t":6.54,"y":45.0},{"s":"m","g":"m","t":6.56,"y":30.0},{"s":"m","g":"m","t":6.58,"y":20.0},{"s":"m","g":"m","t":6.6,"y":16.6},{"s":"m","g":"m","t":6.65,"y":18.0},{"s":"m","g":"m","t":6.67,"y":22.0},{"s":"m","g":"m","t":6.69,"y":19.0},{"s":"m","g":"m","t":6.71,"y":15.0},{"s":"m","g":"m","t":6.73,"y":18.0},{"s":"m","g":"m","t":6.78,"y":25.0},{"s":"m","g":"m","t":6.82,"y":28.0},{"s":"m","g":"m","t":6.86,"y":35.7},{"s":"m","g":"m","t":6.91,"y":34.5},{"s":"m","g":"m","t":7.06,"y":35.5},{"s":"m","g":"m","t":7.19,"y":35.2},{"s":"m","g":"m","t":7.36,"y":35.0},{"s":"m","g":"m","t":7.58,"y":34.7},{"s":"m","g":"m","t":8.01,"y":34.5},{"s":"m","g":"m","t":8.4,"y":34.6},{"s":"m","g":"m","t":8.42,"y":33.0},{"s":"m","g":"m","t":8.46,"y":27.0},{"s":"m","g":"m","t":8.51,"y":20.8},{"s":"m","g":"m","t":8.55,"y":13.0},{"s":"m","g":"m","t":8.61,"y":15.9},{"s":"m","g":"m","t":8.65,"y":12.3},{"s":"m","g":"m","t":8.7,"y":15.0},{"s":"m","g":"m","t":8.76,"y":23.0},{"s":"m","g":"m","t":8.79,"y":40.0},{"s":"m","g":"m","t":8.83,"y":48.9},{"s":"m","g":"m","t":8.87,"y":44.0},{"s":"m","g":"m","t":8.92,"y":44.0},{"s":"m","g":"m","t":8.96,"y":39.0},{"s":"m","g":"m","t":9.0,"y":35.0},{"s":"m","g":"m","t":9.05,"y":18.0},{"s":"m","g":"m","t":9.09,"y":18.5},{"s":"m","g":"m","t":9.13,"y":21.0},{"s":"m","g":"m","t":9.15,"y":30.0},{"s":"m","g":"m","t":9.2,"y":53.0},{"s":"m","g":"m","t":9.24,"y":59.0},{"s":"m","g":"m","t":9.26,"y":55.0},{"s":"m","g":"m","t":9.28,"y":64.7},{"s":"m","g":"m","t":9.3,"y":54.0},{"s":"m","g":"m","t":9.35,"y":46.5},{"s":"m","g":"m","t":9.46,"y":46.0},{"s":"m","g":"m","t":9.49,"y":40.0},{"s":"m","g":"m","t":9.5,"y":31.4},{"s":"m","g":"m","t":9.52,"y":34.0},{"s":"m","g":"m","t":9.56,"y":36.0},{"s":"m","g":"m","t":9.63,"y":39.2},{"s":"m","g":"m","t":9.72,"y":34.5},{"s":"m","g":"m","t":9.8,"y":38.5},{"s":"m","g":"m","t":9.91,"y":34.5},{"s":"m","g":"m","t":10.02,"y":37.5},{"s":"m","g":"m","t":10.13,"y":35.0},{"s":"m","g":"m","t":10.23,"y":36.5},{"s":"m","g":"m","t":10.38,"y":35.3},{"s":"m","g":"m","t":10.6,"y":35.0},{"s":"m","g":"m","t":11.5,"y":34.6}
],
"d5": [
{"s":"6","t":0,"y":17.1},{"s":"6","t":0.83,"y":17.1},{"s":"6","t":0.84,"y":18.3},{"s":"6","t":0.845,"y":16.3},{"s":"6","t":0.86,"y":17.0},{"s":"6","t":0.94,"y":17.0},{"s":"6","t":0.95,"y":18.6},{"s":"6","t":0.955,"y":16.5},{"s":"6","t":0.97,"y":17.0},{"s":"6","t":1.05,"y":17.0},{"s":"6","t":1.06,"y":18.3},{"s":"6","t":1.065,"y":16.0},{"s":"6","t":1.08,"y":16.9},{"s":"6","t":1.22,"y":16.6},{"s":"6","t":1.23,"y":18.8},{"s":"6","t":1.235,"y":15.6},{"s":"6","t":1.25,"y":16.4},{"s":"6","t":1.35,"y":16.1},{"s":"6","t":1.36,"y":17.2},{"s":"6","t":1.365,"y":15.3},{"s":"6","t":1.38,"y":16.0},{"s":"6","t":1.58,"y":15.7},{"s":"6","t":1.6,"y":18.3},{"s":"6","t":1.605,"y":14.8},{"s":"6","t":1.62,"y":15.6},{"s":"6","t":1.79,"y":15.3},{"s":"6","t":3.35,"y":15.3},{"s":"6","t":3.5,"y":15.2},{"s":"6","t":3.74,"y":15.4},{"s":"6","t":3.93,"y":15.7},{"s":"6","t":3.94,"y":17.2},{"s":"6","t":3.945,"y":14.5},{"s":"6","t":3.96,"y":15.8},{"s":"6","t":4.08,"y":16.0},{"s":"6","t":4.25,"y":16.3},{"s":"6","t":4.48,"y":16.3},{"s":"6","t":4.49,"y":17.6},{"s":"6","t":4.495,"y":15.2},{"s":"6","t":4.51,"y":16.3},{"s":"6","t":5.83,"y":16.3},{"s":"6","t":5.84,"y":14.8},{"s":"6","t":5.86,"y":16.5},{"s":"6","t":6.06,"y":16.0},{"s":"6","t":6.16,"y":15.4},{"s":"6","t":6.17,"y":17.8},{"s":"6","t":6.175,"y":14.4},{"s":"6","t":6.19,"y":15.0},{"s":"6","t":6.28,"y":14.6},{"s":"6","t":6.41,"y":14.0},{"s":"6","t":6.52,"y":13.3},{"s":"6","t":6.53,"y":16.4},{"s":"6","t":6.535,"y":12.2},{"s":"6","t":6.55,"y":13.1},{"s":"6","t":6.58,"y":13.0},{"s":"6","t":6.69,"y":13.3},{"s":"6","t":6.93,"y":13.6},{"s":"6","t":7.14,"y":14.0},{"s":"6","t":7.36,"y":14.5},{"s":"6","t":7.58,"y":14.9},{"s":"6","t":7.79,"y":15.3},{"s":"6","t":8.01,"y":15.6},{"s":"6","t":8.18,"y":15.8},{"s":"6","t":8.44,"y":15.8},{"s":"6","t":8.58,"y":16.0},{"s":"6","t":8.59,"y":18.0},{"s":"6","t":8.595,"y":14.5},{"s":"6","t":8.61,"y":16.0},{"s":"6","t":8.73,"y":16.2},{"s":"6","t":8.74,"y":17.8},{"s":"6","t":8.745,"y":15.0},{"s":"6","t":8.76,"y":16.2},{"s":"6","t":8.87,"y":16.4},{"s":"6","t":8.96,"y":16.6},{"s":"6","t":8.97,"y":18.0},{"s":"6","t":8.975,"y":16.0},{"s":"6","t":9.0,"y":16.6},{"s":"6","t":9.17,"y":16.8},{"s":"6","t":9.27,"y":17.2},{"s":"6","t":9.28,"y":18.6},{"s":"6","t":9.285,"y":16.8},{"s":"6","t":9.3,"y":17.2},{"s":"6","t":9.48,"y":17.3},{"s":"6","t":11.5,"y":17.3},
{"s":"5","t":0,"y":13.7},{"s":"5","t":0.83,"y":13.7},{"s":"5","t":0.84,"y":11.3},{"s":"5","t":0.845,"y":14.4},{"s":"5","t":0.86,"y":13.7},{"s":"5","t":0.92,"y":13.7},{"s":"5","t":0.93,"y":16.7},{"s":"5","t":0.935,"y":12.8},{"s":"5","t":0.95,"y":13.7},{"s":"5","t":1.05,"y":13.7},{"s":"5","t":1.06,"y":14.5},{"s":"5","t":1.065,"y":13.0},{"s":"5","t":1.08,"y":13.6},{"s":"5","t":1.22,"y":13.5},{"s":"5","t":1.23,"y":12.0},{"s":"5","t":1.25,"y":12.8},{"s":"5","t":1.35,"y":13.0},{"s":"5","t":1.36,"y":15.0},{"s":"5","t":1.365,"y":12.2},{"s":"5","t":1.38,"y":13.0},{"s":"5","t":1.58,"y":12.8},{"s":"5","t":1.6,"y":12.6},{"s":"5","t":1.62,"y":12.8},{"s":"5","t":1.65,"y":12.4},{"s":"5","t":1.7,"y":13.0},{"s":"5","t":1.72,"y":12.3},{"s":"5","t":1.79,"y":12.4},{"s":"5","t":1.8,"y":13.0},{"s":"5","t":1.81,"y":12.3},{"s":"5","t":1.97,"y":12.4},{"s":"5","t":3.33,"y":12.4},{"s":"5","t":3.34,"y":10.0},{"s":"5","t":3.345,"y":13.3},{"s":"5","t":3.36,"y":12.4},{"s":"5","t":3.47,"y":12.3},{"s":"5","t":3.48,"y":13.3},{"s":"5","t":3.485,"y":11.5},{"s":"5","t":3.5,"y":12.3},{"s":"5","t":3.72,"y":12.3},{"s":"5","t":3.73,"y":14.2},{"s":"5","t":3.735,"y":11.0},{"s":"5","t":3.75,"y":12.3},{"s":"5","t":3.76,"y":12.8},{"s":"5","t":3.93,"y":13.5},{"s":"5","t":3.94,"y":14.5},{"s":"5","t":3.945,"y":12.0},{"s":"5","t":3.95,"y":12.3},{"s":"5","t":4.23,"y":12.7},{"s":"5","t":4.24,"y":13.8},{"s":"5","t":4.245,"y":12.4},{"s":"5","t":4.26,"y":12.8},{"s":"5","t":4.48,"y":13.1},{"s":"5","t":4.49,"y":15.5},{"s":"5","t":4.495,"y":12.5},{"s":"5","t":4.51,"y":13.1},{"s":"5","t":5.94,"y":13.1},{"s":"5","t":6.02,"y":12.9},{"s":"5","t":6.16,"y":12.4},{"s":"5","t":6.17,"y":10.0},{"s":"5","t":6.175,"y":13.9},{"s":"5","t":6.19,"y":12.4},{"s":"5","t":6.26,"y":12.5},{"s":"5","t":6.39,"y":12.2},{"s":"5","t":6.53,"y":11.5},{"s":"5","t":6.54,"y":9.7},{"s":"5","t":6.545,"y":12.5},{"s":"5","t":6.56,"y":11.6},{"s":"5","t":6.6,"y":11.8},{"s":"5","t":6.61,"y":9.8},{"s":"5","t":6.62,"y":11.5},{"s":"5","t":6.71,"y":11.0},{"s":"5","t":6.72,"y":12.8},{"s":"5","t":6.725,"y":10.8},{"s":"5","t":6.84,"y":10.9},{"s":"5","t":6.86,"y":11.0},{"s":"5","t":6.87,"y":9.4},{"s":"5","t":6.875,"y":11.0},{"s":"5","t":7.14,"y":11.3},{"s":"5","t":7.58,"y":11.7},{"s":"5","t":8.01,"y":12.1},{"s":"5","t":8.33,"y":12.3},{"s":"5","t":8.34,"y":13.0},{"s":"5","t":8.345,"y":12.0},{"s":"5","t":8.44,"y":12.2},{"s":"5","t":8.45,"y":12.9},{"s":"5","t":8.455,"y":12.0},{"s":"5","t":8.59,"y":12.4},{"s":"5","t":8.61,"y":14.5},{"s":"5","t":8.7,"y":13.0},{"s":"5","t":8.73,"y":12.5},{"s":"5","t":8.74,"y":15.0},{"s":"5","t":8.745,"y":12.4},{"s":"5","t":8.83,"y":12.5},{"s":"5","t":8.87,"y":12.1},{"s":"5","t":8.94,"y":14.0},{"s":"5","t":8.96,"y":16.3},{"s":"5","t":8.965,"y":13.0},{"s":"5","t":9.0,"y":13.0},{"s":"5","t":9.13,"y":13.4},{"s":"5","t":9.16,"y":15.0},{"s":"5","t":9.17,"y":16.0},{"s":"5","t":9.19,"y":12.0},{"s":"5","t":9.22,"y":14.0},{"s":"5","t":9.25,"y":16.5},{"s":"5","t":9.26,"y":12.5},{"s":"5","t":9.3,"y":13.9},{"s":"5","t":9.47,"y":14.0},{"s":"5","t":9.48,"y":14.8},{"s":"5","t":9.485,"y":12.0},{"s":"5","t":9.5,"y":14.0},{"s":"5","t":11.5,"y":13.9},
{"s":"4","t":0,"y":10.9},{"s":"4","t":0.93,"y":10.9},{"s":"4","t":1.14,"y":10.7},{"s":"4","t":1.27,"y":10.5},{"s":"4","t":1.36,"y":10.5},{"s":"4","t":1.41,"y":10.3},{"s":"4","t":1.42,"y":12.3},{"s":"4","t":1.425,"y":10.2},{"s":"4","t":1.58,"y":10.1},{"s":"4","t":1.6,"y":10.1},{"s":"4","t":1.61,"y":8.0},{"s":"4","t":1.62,"y":9.3},{"s":"4","t":1.68,"y":9.9},{"s":"4","t":1.79,"y":9.8},{"s":"4","t":1.96,"y":9.7},{"s":"4","t":1.97,"y":10.3},{"s":"4","t":1.98,"y":9.7},{"s":"4","t":3.47,"y":9.7},{"s":"4","t":3.48,"y":11.2},{"s":"4","t":3.485,"y":9.8},{"s":"4","t":3.52,"y":10.0},{"s":"4","t":3.73,"y":10.5},{"s":"4","t":3.74,"y":9.4},{"s":"4","t":3.745,"y":8.5},{"s":"4","t":3.75,"y":9.4},{"s":"4","t":3.93,"y":9.8},{"s":"4","t":3.95,"y":10.0},{"s":"4","t":4.23,"y":10.2},{"s":"4","t":4.235,"y":11.2},{"s":"4","t":4.24,"y":10.2},{"s":"4","t":4.43,"y":10.4},{"s":"4","t":4.49,"y":10.7},{"s":"4","t":4.52,"y":10.4},{"s":"4","t":5.84,"y":10.4},{"s":"4","t":5.845,"y":8.5},{"s":"4","t":5.87,"y":10.9},{"s":"4","t":5.94,"y":10.6},{"s":"4","t":6.0,"y":10.5},{"s":"4","t":6.17,"y":10.3},{"s":"4","t":6.24,"y":10.0},{"s":"4","t":6.245,"y":8.8},{"s":"4","t":6.25,"y":10.0},{"s":"4","t":6.32,"y":9.3},{"s":"4","t":6.54,"y":9.3},{"s":"4","t":6.545,"y":8.0},{"s":"4","t":6.55,"y":9.1},{"s":"4","t":6.6,"y":8.8},{"s":"4","t":6.84,"y":8.7},{"s":"4","t":6.86,"y":8.5},{"s":"4","t":6.865,"y":7.8},{"s":"4","t":6.87,"y":8.8},{"s":"4","t":6.91,"y":8.9},{"s":"4","t":7.14,"y":9.1},{"s":"4","t":7.58,"y":9.4},{"s":"4","t":8.01,"y":9.7},{"s":"4","t":8.4,"y":10.0},{"s":"4","t":8.44,"y":10.0},{"s":"4","t":8.445,"y":9.0},{"s":"4","t":8.45,"y":10.0},{"s":"4","t":8.59,"y":10.0},{"s":"4","t":8.595,"y":8.5},{"s":"4","t":8.6,"y":10.0},{"s":"4","t":8.95,"y":10.2},{"s":"4","t":8.96,"y":9.0},{"s":"4","t":8.965,"y":12.0},{"s":"4","t":8.97,"y":10.2},{"s":"4","t":9.02,"y":11.0},{"s":"4","t":9.13,"y":11.5},{"s":"4","t":9.15,"y":10.2},{"s":"4","t":9.17,"y":10.8},{"s":"4","t":9.2,"y":9.6},{"s":"4","t":9.22,"y":10.0},{"s":"4","t":9.3,"y":10.5},{"s":"4","t":9.48,"y":10.9},{"s":"4","t":9.5,"y":11.1},{"s":"4","t":11.5,"y":11.1},
{"s":"3","t":0,"y":8.3},{"s":"3","t":0.93,"y":8.2},{"s":"3","t":0.94,"y":12.2},{"s":"3","t":0.945,"y":7.0},{"s":"3","t":0.96,"y":8.2},{"s":"3","t":1.05,"y":8.0},{"s":"3","t":1.06,"y":9.2},{"s":"3","t":1.065,"y":7.2},{"s":"3","t":1.08,"y":8.0},{"s":"3","t":1.17,"y":7.9},{"s":"3","t":1.18,"y":9.0},{"s":"3","t":1.185,"y":7.0},{"s":"3","t":1.2,"y":7.9},{"s":"3","t":1.23,"y":7.9},{"s":"3","t":1.24,"y":9.0},{"s":"3","t":1.245,"y":6.5},{"s":"3","t":1.26,"y":7.9},{"s":"3","t":1.36,"y":8.0},{"s":"3","t":1.365,"y":5.0},{"s":"3","t":1.37,"y":8.0},{"s":"3","t":1.58,"y":8.1},{"s":"3","t":1.6,"y":7.8},{"s":"3","t":1.605,"y":5.5},{"s":"3","t":1.62,"y":7.6},{"s":"3","t":1.68,"y":6.9},{"s":"3","t":1.72,"y":7.3},{"s":"3","t":1.79,"y":7.5},{"s":"3","t":1.795,"y":8.6},{"s":"3","t":1.8,"y":7.5},{"s":"3","t":1.86,"y":7.8},{"s":"3","t":1.96,"y":7.6},{"s":"3","t":1.97,"y":8.7},{"s":"3","t":1.975,"y":7.4},{"s":"3","t":1.99,"y":7.4},{"s":"3","t":3.33,"y":7.4},{"s":"3","t":3.34,"y":8.6},{"s":"3","t":3.345,"y":4.6},{"s":"3","t":3.35,"y":7.2},{"s":"3","t":3.48,"y":7.1},{"s":"3","t":3.485,"y":8.3},{"s":"3","t":3.49,"y":6.0},{"s":"3","t":3.5,"y":7.1},{"s":"3","t":3.73,"y":7.0},{"s":"3","t":3.75,"y":7.7},{"s":"3","t":3.93,"y":7.7},{"s":"3","t":3.94,"y":8.2},{"s":"3","t":3.945,"y":6.8},{"s":"3","t":3.95,"y":7.6},{"s":"3","t":4.23,"y":7.8},{"s":"3","t":4.24,"y":8.3},{"s":"3","t":4.25,"y":7.8},{"s":"3","t":4.48,"y":8.0},{"s":"3","t":4.49,"y":9.6},{"s":"3","t":4.495,"y":7.9},{"s":"3","t":4.56,"y":8.0},{"s":"3","t":5.94,"y":7.9},{"s":"3","t":6.0,"y":7.7},{"s":"3","t":6.19,"y":7.4},{"s":"3","t":6.2,"y":9.5},{"s":"3","t":6.205,"y":4.7},{"s":"3","t":6.22,"y":7.3},{"s":"3","t":6.28,"y":7.3},{"s":"3","t":6.285,"y":4.3},{"s":"3","t":6.29,"y":7.2},{"s":"3","t":6.37,"y":6.8},{"s":"3","t":6.56,"y":6.4},{"s":"3","t":6.565,"y":5.0},{"s":"3","t":6.57,"y":6.4},{"s":"3","t":6.71,"y":6.5},{"s":"3","t":7.14,"y":6.7},{"s":"3","t":7.58,"y":7.0},{"s":"3","t":8.01,"y":7.3},{"s":"3","t":8.33,"y":7.3},{"s":"3","t":8.35,"y":8.0},{"s":"3","t":8.44,"y":7.6},{"s":"3","t":8.445,"y":6.3},{"s":"3","t":8.45,"y":7.6},{"s":"3","t":8.59,"y":7.7},{"s":"3","t":8.87,"y":7.8},{"s":"3","t":8.95,"y":8.0},{"s":"3","t":8.96,"y":10.5},{"s":"3","t":8.965,"y":5.0},{"s":"3","t":8.97,"y":9.0},{"s":"3","t":9.0,"y":8.5},{"s":"3","t":9.1,"y":8.5},{"s":"3","t":9.12,"y":10.0},{"s":"3","t":9.13,"y":5.0},{"s":"3","t":9.15,"y":8.5},{"s":"3","t":9.2,"y":9.0},{"s":"3","t":9.22,"y":10.2},{"s":"3","t":9.23,"y":6.5},{"s":"3","t":9.26,"y":8.3},{"s":"3","t":9.48,"y":8.3},{"s":"3","t":9.485,"y":9.2},{"s":"3","t":9.49,"y":8.3},{"s":"3","t":11.5,"y":8.3},
{"s":"2","t":0,"y":6.15},{"s":"2","t":0.96,"y":6.1},{"s":"2","t":0.97,"y":7.7},{"s":"2","t":0.975,"y":5.0},{"s":"2","t":0.99,"y":6.5},{"s":"2","t":1.05,"y":6.3},{"s":"2","t":1.06,"y":7.0},{"s":"2","t":1.065,"y":5.3},{"s":"2","t":1.1,"y":6.0},{"s":"2","t":1.18,"y":6.2},{"s":"2","t":1.19,"y":7.5},{"s":"2","t":1.195,"y":4.5},{"s":"2","t":1.21,"y":6.2},{"s":"2","t":1.27,"y":6.3},{"s":"2","t":1.3,"y":5.8},{"s":"2","t":1.32,"y":5.8},{"s":"2","t":1.33,"y":7.3},{"s":"2","t":1.335,"y":4.5},{"s":"2","t":1.35,"y":5.9},{"s":"2","t":1.58,"y":5.8},{"s":"2","t":1.62,"y":5.5},{"s":"2","t":1.78,"y":5.6},{"s":"2","t":1.79,"y":6.6},{"s":"2","t":1.795,"y":4.8},{"s":"2","t":1.8,"y":5.6},{"s":"2","t":3.47,"y":5.6},{"s":"2","t":3.48,"y":6.5},{"s":"2","t":3.5,"y":5.0},{"s":"2","t":3.52,"y":5.2},{"s":"2","t":3.56,"y":5.6},{"s":"2","t":3.73,"y":5.7},{"s":"2","t":3.74,"y":6.5},{"s":"2","t":3.745,"y":5.7},{"s":"2","t":4.25,"y":5.75},{"s":"2","t":5.98,"y":5.8},{"s":"2","t":6.0,"y":7.4},{"s":"2","t":6.01,"y":5.9},{"s":"2","t":6.06,"y":5.8},{"s":"2","t":6.19,"y":5.5},{"s":"2","t":6.28,"y":5.3},{"s":"2","t":6.38,"y":5.0},{"s":"2","t":6.39,"y":6.8},{"s":"2","t":6.395,"y":5.0},{"s":"2","t":6.56,"y":4.9},{"s":"2","t":6.57,"y":4.3},{"s":"2","t":6.575,"y":4.9},{"s":"2","t":6.71,"y":4.9},{"s":"2","t":7.14,"y":5.0},{"s":"2","t":7.58,"y":5.2},{"s":"2","t":8.01,"y":5.4},{"s":"2","t":8.45,"y":5.5},{"s":"2","t":8.46,"y":5.7},{"s":"2","t":8.47,"y":5.2},{"s":"2","t":8.48,"y":5.7},{"s":"2","t":8.61,"y":5.7},{"s":"2","t":9.0,"y":5.9},{"s":"2","t":9.13,"y":6.1},{"s":"2","t":9.135,"y":7.0},{"s":"2","t":9.14,"y":4.8},{"s":"2","t":9.15,"y":6.1},{"s":"2","t":9.21,"y":5.5},{"s":"2","t":9.22,"y":4.5},{"s":"2","t":9.23,"y":5.8},{"s":"2","t":9.26,"y":6.0},{"s":"2","t":9.28,"y":6.15},{"s":"2","t":11.5,"y":6.15},
{"s":"1","t":0,"y":1.8},{"s":"1","t":1.6,"y":1.8},{"s":"1","t":1.605,"y":6.6},{"s":"1","t":1.61,"y":0.2},{"s":"1","t":1.62,"y":2.6},{"s":"1","t":1.64,"y":1.2},{"s":"1","t":1.66,"y":2.4},{"s":"1","t":1.68,"y":1.4},{"s":"1","t":1.71,"y":2.2},{"s":"1","t":1.74,"y":1.5},{"s":"1","t":1.78,"y":2.0},{"s":"1","t":1.82,"y":1.6},{"s":"1","t":1.88,"y":1.9},{"s":"1","t":1.95,"y":1.7},{"s":"1","t":2.0,"y":2.0},{"s":"1","t":2.05,"y":1.7},{"s":"1","t":2.1,"y":1.8},{"s":"1","t":6.08,"y":1.8},{"s":"1","t":6.09,"y":3.0},{"s":"1","t":6.095,"y":0.4},{"s":"1","t":6.1,"y":2.2},{"s":"1","t":6.13,"y":1.4},{"s":"1","t":6.16,"y":2.4},{"s":"1","t":6.19,"y":0.8},{"s":"1","t":6.2,"y":2.8},{"s":"1","t":6.23,"y":-0.2},{"s":"1","t":6.24,"y":4.1},{"s":"1","t":6.25,"y":0.5},{"s":"1","t":6.27,"y":2.6},{"s":"1","t":6.3,"y":1.3},{"s":"1","t":6.33,"y":2.0},{"s":"1","t":6.4,"y":1.8},{"s":"1","t":6.42,"y":3.5},{"s":"1","t":6.43,"y":1.0},{"s":"1","t":6.45,"y":2.1},{"s":"1","t":6.5,"y":1.7},{"s":"1","t":6.55,"y":1.8},{"s":"1","t":6.56,"y":3.4},{"s":"1","t":6.565,"y":-0.1},{"s":"1","t":6.57,"y":3.0},{"s":"1","t":6.59,"y":0.7},{"s":"1","t":6.61,"y":2.4},{"s":"1","t":6.64,"y":1.4},{"s":"1","t":6.68,"y":1.9},{"s":"1","t":6.72,"y":1.8},{"s":"1","t":11.5,"y":1.8}
],
"d6": [
{"s":"2","t":0,"y":-0.0015},{"s":"2","t":0.95,"y":-0.0015},{"s":"2","t":0.99,"y":0.001},{"s":"2","t":1.08,"y":0.004},{"s":"2","t":1.14,"y":0.012},{"s":"2","t":1.21,"y":0.02},{"s":"2","t":1.27,"y":0.027},{"s":"2","t":1.32,"y":0.029},{"s":"2","t":1.58,"y":0.03},{"s":"2","t":1.79,"y":0.029},{"s":"2","t":1.84,"y":0.0277},{"s":"2","t":2.0,"y":0.027},{"s":"2","t":3.3,"y":0.027},{"s":"2","t":3.48,"y":0.0284},{"s":"2","t":5.98,"y":0.028},{"s":"2","t":6.06,"y":0.0404},{"s":"2","t":6.32,"y":0.041},{"s":"2","t":6.41,"y":0.055},{"s":"2","t":6.43,"y":0.056},{"s":"2","t":8.44,"y":0.056},{"s":"2","t":8.48,"y":0.058},{"s":"2","t":8.55,"y":0.0567},{"s":"2","t":9.24,"y":0.057},{"s":"2","t":9.26,"y":0.045},{"s":"2","t":11.5,"y":0.045},
{"s":"3","t":0,"y":0.0085},{"s":"3","t":0.93,"y":0.0085},{"s":"3","t":0.95,"y":0.0156},{"s":"3","t":0.99,"y":0.013},{"s":"3","t":1.12,"y":0.013},{"s":"3","t":1.19,"y":0.02},{"s":"3","t":1.25,"y":0.032},{"s":"3","t":1.3,"y":0.042},{"s":"3","t":1.34,"y":0.04},{"s":"3","t":1.38,"y":0.037},{"s":"3","t":1.49,"y":0.039},{"s":"3","t":1.56,"y":0.05},{"s":"3","t":1.6,"y":0.0578},{"s":"3","t":1.71,"y":0.058},{"s":"3","t":1.75,"y":0.05},{"s":"3","t":1.79,"y":0.039},{"s":"3","t":1.88,"y":0.037},{"s":"3","t":1.97,"y":0.041},{"s":"3","t":3.35,"y":0.041},{"s":"3","t":3.39,"y":0.037},{"s":"3","t":3.54,"y":0.036},{"s":"3","t":3.63,"y":0.026},{"s":"3","t":3.71,"y":0.0135},{"s":"3","t":3.95,"y":0.014},{"s":"3","t":4.47,"y":0.014},{"s":"3","t":4.51,"y":0.0174},{"s":"3","t":5.93,"y":0.0174},{"s":"3","t":5.96,"y":0.0223},{"s":"3","t":6.22,"y":0.023},{"s":"3","t":6.26,"y":0.034},{"s":"3","t":6.32,"y":0.034},{"s":"3","t":6.39,"y":0.0518},{"s":"3","t":6.42,"y":0.0532},{"s":"3","t":8.44,"y":0.0532},{"s":"3","t":8.49,"y":0.0493},{"s":"3","t":9.0,"y":0.0493},{"s":"3","t":9.05,"y":0.053},{"s":"3","t":9.09,"y":0.046},{"s":"3","t":9.17,"y":0.04},{"s":"3","t":9.26,"y":0.033},{"s":"3","t":9.3,"y":0.025},{"s":"3","t":11.5,"y":0.025},
{"s":"4","t":0,"y":0.017},{"s":"4","t":1.43,"y":0.017},{"s":"4","t":1.45,"y":0.025},{"s":"4","t":1.49,"y":0.03},{"s":"4","t":1.57,"y":0.031},{"s":"4","t":1.6,"y":0.0347},{"s":"4","t":1.64,"y":0.025},{"s":"4","t":1.68,"y":0.0135},{"s":"4","t":1.97,"y":0.013},{"s":"4","t":2.0,"y":0.012},{"s":"4","t":3.48,"y":0.012},{"s":"4","t":3.56,"y":0.015},{"s":"4","t":3.63,"y":0.025},{"s":"4","t":3.69,"y":0.037},{"s":"4","t":3.74,"y":0.044},{"s":"4","t":3.8,"y":0.035},{"s":"4","t":3.87,"y":0.022},{"s":"4","t":3.93,"y":0.01},{"s":"4","t":3.95,"y":0.0057},{"s":"4","t":4.23,"y":0.0057},{"s":"4","t":4.28,"y":0.002},{"s":"4","t":4.36,"y":-0.004},{"s":"4","t":4.43,"y":-0.0064},{"s":"4","t":6.15,"y":-0.0064},{"s":"4","t":6.19,"y":-0.008},{"s":"4","t":6.28,"y":-0.008},{"s":"4","t":6.3,"y":0.012},{"s":"4","t":6.56,"y":0.012},{"s":"4","t":6.6,"y":0.0245},{"s":"4","t":6.84,"y":0.026},{"s":"4","t":6.91,"y":0.0294},{"s":"4","t":8.4,"y":0.029},{"s":"4","t":8.48,"y":0.033},{"s":"4","t":8.61,"y":0.0365},{"s":"4","t":8.87,"y":0.036},{"s":"4","t":8.94,"y":0.028},{"s":"4","t":8.99,"y":0.0199},{"s":"4","t":9.05,"y":0.027},{"s":"4","t":9.13,"y":0.037},{"s":"4","t":9.17,"y":0.052},{"s":"4","t":9.21,"y":0.035},{"s":"4","t":9.26,"y":0.04},{"s":"4","t":9.3,"y":0.035},{"s":"4","t":9.39,"y":0.0287},{"s":"4","t":11.5,"y":0.029},
{"s":"5","t":0,"y":0.0323},{"s":"5","t":0.83,"y":0.0323},{"s":"5","t":0.84,"y":0.03},{"s":"5","t":1.23,"y":0.029},{"s":"5","t":1.25,"y":0.025},{"s":"5","t":1.32,"y":0.01},{"s":"5","t":1.37,"y":-0.007},{"s":"5","t":1.4,"y":-0.001},{"s":"5","t":1.97,"y":-0.001},{"s":"5","t":2.0,"y":0.0},{"s":"5","t":3.33,"y":-0.001},{"s":"5","t":3.35,"y":-0.0032},{"s":"5","t":3.71,"y":-0.004},{"s":"5","t":3.78,"y":0.012},{"s":"5","t":3.84,"y":0.03},{"s":"5","t":3.94,"y":0.043},{"s":"5","t":4.02,"y":0.032},{"s":"5","t":4.1,"y":0.01},{"s":"5","t":4.17,"y":-0.002},{"s":"5","t":4.23,"y":-0.0099},{"s":"5","t":4.47,"y":-0.0099},{"s":"5","t":4.51,"y":-0.0085},{"s":"5","t":6.17,"y":-0.0089},{"s":"5","t":6.22,"y":-0.0316},{"s":"5","t":6.26,"y":-0.0358},{"s":"5","t":6.52,"y":-0.0358},{"s":"5","t":6.55,"y":-0.045},{"s":"5","t":6.58,"y":-0.051},{"s":"5","t":6.63,"y":-0.04},{"s":"5","t":6.67,"y":-0.027},{"s":"5","t":6.73,"y":-0.024},{"s":"5","t":6.82,"y":-0.0163},{"s":"5","t":8.44,"y":-0.0165},{"s":"5","t":8.59,"y":-0.016},{"s":"5","t":8.64,"y":0.0},{"s":"5","t":8.7,"y":0.025},{"s":"5","t":8.74,"y":0.038},{"s":"5","t":8.79,"y":0.041},{"s":"5","t":8.85,"y":0.025},{"s":"5","t":8.89,"y":0.0},{"s":"5","t":8.94,"y":-0.006},{"s":"5","t":8.98,"y":0.01},{"s":"5","t":9.01,"y":0.0188},{"s":"5","t":9.15,"y":0.02},{"s":"5","t":9.2,"y":0.03},{"s":"5","t":9.24,"y":0.05},{"s":"5","t":9.28,"y":0.0596},{"s":"5","t":9.48,"y":0.06},{"s":"5","t":9.52,"y":0.057},{"s":"5","t":11.5,"y":0.056}
],
"d7": [
{"s":"p","t":0,"y":0},{"s":"p","t":6.49,"y":0},{"s":"p","t":8.31,"y":2.97},{"s":"p","t":11.4,"y":2.97},{"s":"p","t":11.5,"y":3.0},
{"s":"o","t":0,"y":0},{"s":"o","t":1.08,"y":0},{"s":"o","t":1.14,"y":0.15},{"s":"o","t":1.27,"y":0.45},{"s":"o","t":1.4,"y":0.7},{"s":"o","t":1.53,"y":0.85},{"s":"o","t":1.66,"y":1.1},{"s":"o","t":1.79,"y":1.27},{"s":"o","t":1.92,"y":1.3},{"s":"o","t":1.98,"y":1.28},{"s":"o","t":2.18,"y":1.25},{"s":"o","t":3.48,"y":1.25},{"s":"o","t":3.6,"y":1.2},{"s":"o","t":3.74,"y":1.05},{"s":"o","t":3.87,"y":0.85},{"s":"o","t":4.0,"y":0.6},{"s":"o","t":4.12,"y":0.4},{"s":"o","t":4.25,"y":0.2},{"s":"o","t":4.38,"y":0.1},{"s":"o","t":4.51,"y":0.1},{"s":"o","t":5.88,"y":0.1},{"s":"o","t":5.94,"y":0.15},{"s":"o","t":6.07,"y":0.6},{"s":"o","t":6.2,"y":1.0},{"s":"o","t":6.3,"y":1.45},{"s":"o","t":6.39,"y":2.0},{"s":"o","t":6.52,"y":2.5},{"s":"o","t":6.65,"y":2.7},{"s":"o","t":6.85,"y":2.77},{"s":"o","t":7.11,"y":2.78},{"s":"o","t":8.47,"y":2.78},{"s":"o","t":8.6,"y":2.65},{"s":"o","t":8.73,"y":2.35},{"s":"o","t":8.86,"y":1.95},{"s":"o","t":8.99,"y":1.65},{"s":"o","t":9.12,"y":1.45},{"s":"o","t":9.25,"y":1.15},{"s":"o","t":9.38,"y":0.75},{"s":"o","t":9.44,"y":0.6},{"s":"o","t":9.57,"y":0.55},{"s":"o","t":11.5,"y":0.55}
]
},
"vconcat": [
{"width": 887, "height": 188, "data": {"name": "d1"}, "mark": {"type": "line"},
 "encoding": {
  "x": {"field": "t", "type": "quantitative", "scale": {"domain": [0, 11.5], "nice": false}, "axis": {"values": [0,2,4,6,8,10], "labels": false, "title": null}},
  "y": {"field": "y", "type": "quantitative", "scale": {"domain": [90, 180], "nice": false, "zero": false}, "axis": {"values": [100,120,140,160,180], "title": null, "labelExpr": "replace(format(datum.value, '~g'), '−', '-')"}},
  "color": {"field": "s", "type": "nominal", "scale": {"domain": ["r","m"], "range": ["#0072BD","#D95319"]}, "legend": {"orient": "none", "legendX": 914, "legendY": 63, "title": null, "labelExpr": "datum.label == 'r' ? 'xᵣₑf [mm]' : 'x [mm]'"}}
 }},
{"width": 887, "height": 188, "data": {"name": "d2"}, "mark": {"type": "line"},
 "encoding": {
  "x": {"field": "t", "type": "quantitative", "scale": {"domain": [0, 11.5], "nice": false}, "axis": {"values": [0,2,4,6,8,10], "labels": false, "title": null}},
  "y": {"field": "y", "type": "quantitative", "scale": {"domain": [-140, 140], "nice": false, "zero": false}, "axis": {"values": [-100,-50,0,50,100], "title": null, "labelExpr": "replace(format(datum.value, '~g'), '−', '-')"}},
  "color": {"field": "s", "type": "nominal", "scale": {"domain": ["r","m"], "range": ["#0072BD","#D95319"]}, "legend": {"orient": "none", "legendX": 914, "legendY": 63, "title": null, "labelExpr": "datum.label == 'r' ? 'vᵣₑf [mm/s]' : 'v [mm/s]'"}},
  "strokeWidth": {"condition": {"test": "datum.s == 'm'", "value": 2.3}, "value": 1.3}
 }},
{"width": 887, "height": 188, "data": {"name": "d3"}, "mark": {"type": "line"},
 "encoding": {
  "x": {"field": "t", "type": "quantitative", "scale": {"domain": [0, 11.5], "nice": false}, "axis": {"values": [0,2,4,6,8,10], "labels": false, "title": null}},
  "y": {"field": "y", "type": "quantitative", "scale": {"domain": [0, 20], "nice": false}, "axis": {"values": [0,5,10,15,20], "title": null, "labelExpr": "replace(format(datum.value, '~g'), '−', '-')"}},
  "color": {"field": "s", "type": "nominal", "scale": {"domain": ["A","B"], "range": ["#0072BD","#D95319"]}, "legend": {"orient": "none", "legendX": 914, "legendY": 59, "title": null, "labelExpr": "'p' + datum.label + ' [MPa]'"}}
 }},
{"width": 887, "height": 188, "data": {"name": "d4"}, "mark": {"type": "line"},
 "encoding": {
  "x": {"field": "t", "type": "quantitative", "scale": {"domain": [0, 11.5], "nice": false}, "axis": {"values": [0,2,4,6,8,10], "labels": false, "title": null}},
  "y": {"field": "y", "type": "quantitative", "scale": {"domain": [0, 80], "nice": false}, "axis": {"values": [0,20,40,60,80], "title": null, "labelExpr": "replace(format(datum.value, '~g'), '−', '-')"}},
  "color": {"field": "s", "type": "nominal", "scale": {"domain": ["r","o","m"], "range": ["#0072BD","#D95319","#000000"]}, "legend": {"orient": "none", "legendX": 914, "legendY": 45, "title": null, "labelExpr": "datum.label == 'r' ? 'Fᵣₑf [kN]' : datum.label == 'o' ? 'Fₒₚₜ [kN]' : 'Fₘₑₐₛ [kN]'"}},
  "detail": {"field": "g", "type": "nominal"},
  "strokeWidth": {"condition": {"test": "datum.s == 'm'", "value": 1.7}, "value": 1.3}
 }},
{"width": 887, "height": 188, "data": {"name": "d5"}, "mark": {"type": "line"},
 "encoding": {
  "x": {"field": "t", "type": "quantitative", "scale": {"domain": [0, 11.5], "nice": false}, "axis": {"values": [0,2,4,6,8,10], "labels": false, "title": null}},
  "y": {"field": "y", "type": "quantitative", "scale": {"domain": [-1, 19], "nice": false, "zero": false}, "axis": {"values": [0,5,10,15], "title": null, "labelExpr": "replace(format(datum.value, '~g'), '−', '-')"}},
  "color": {"field": "s", "type": "nominal", "scale": {"domain": ["6","5","4","3","2","1"], "range": ["#0072BD","#D95319","#EDB120","#7E2F8E","#77AC30","#4DBEEE"]}, "legend": {"orient": "none", "legendX": 914, "legendY": 2, "title": null, "labelExpr": "'p' + (datum.label == '6' ? '₆' : datum.label == '5' ? '₅' : datum.label == '4' ? '₄' : datum.label == '3' ? '₃' : datum.label == '2' ? '₂' : '₁') + ' [MPa]'"}}
 }},
{"width": 887, "height": 188, "data": {"name": "d6"}, "mark": {"type": "line"},
 "encoding": {
  "x": {"field": "t", "type": "quantitative", "scale": {"domain": [0, 11.5], "nice": false}, "axis": {"values": [0,2,4,6,8,10], "labels": false, "title": null}},
  "y": {"field": "y", "type": "quantitative", "scale": {"domain": [-0.1, 0.1], "nice": false}, "axis": {"values": [-0.1,-0.05,0,0.05,0.1], "title": null, "labelExpr": "replace(format(datum.value, '~g'), '−', '-')"}},
  "color": {"field": "s", "type": "nominal", "scale": {"domain": ["2","3","4","5"], "range": ["#0072BD","#D95319","#EDB120","#7E2F8E"]}, "legend": {"orient": "none", "legendX": 914, "legendY": 30, "title": null, "labelExpr": "'V' + (datum.label == '2' ? '₂' : datum.label == '3' ? '₃' : datum.label == '4' ? '₄' : '₅') + ' [l]'"}}
 }},
{"width": 887, "height": 188, "data": {"name": "d7"},
 "encoding": {
  "x": {"field": "t", "type": "quantitative", "scale": {"domain": [0, 11.5], "nice": false}, "axis": {"values": [0,2,4,6,8,10], "title": "Time [s]", "titlePadding": 9, "labelPadding": 19}},
  "y": {"field": "y", "type": "quantitative", "scale": {"domain": [-1, 4], "nice": false, "zero": false}, "axis": {"values": [-1,0,1,2,3,4], "title": null, "labelExpr": "replace(format(datum.value, '~g'), '−', '-')"}},
  "color": {"field": "s", "type": "nominal", "scale": {"domain": ["p","o"], "range": ["#0072BD","#D95319"]}, "legend": {"orient": "none", "legendX": 914, "legendY": 60, "title": null, "labelExpr": "datum.label == 'p' ? 'Eₚᵤₘₚ [kJ]' : 'Eₒᵤₜ [kJ]'"}}
 },
 "layer": [
  {"transform": [{"filter": "datum.s == 'p'"}], "mark": {"type": "line", "interpolate": "linear"}},
  {"transform": [{"filter": "datum.s == 'o'"}], "mark": {"type": "line", "interpolate": "monotone"}}
 ]}
]
}
